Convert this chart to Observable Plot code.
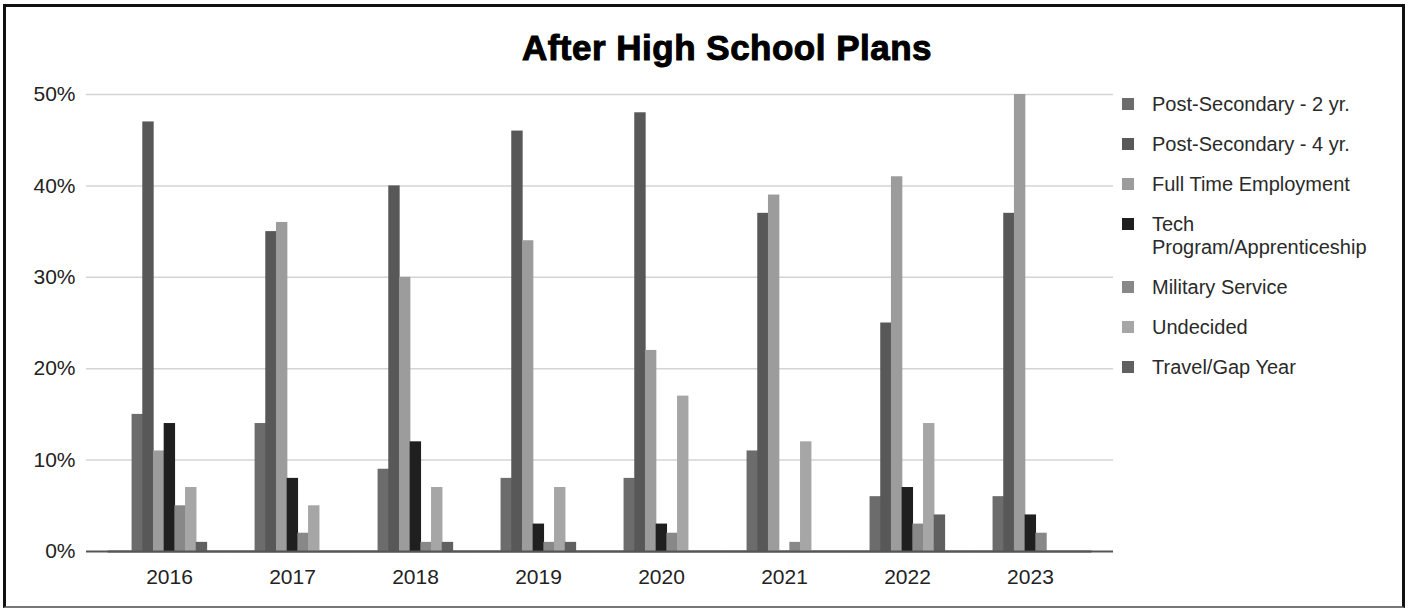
<!DOCTYPE html>
<html>
<head>
<meta charset="utf-8">
<script src="https://cdn.jsdelivr.net/npm/d3@7"></script>
<script src="https://cdn.jsdelivr.net/npm/@observablehq/plot@0.6"></script>
<style>
  html, body { margin: 0; padding: 0; background: #fff; }
  #wrap { position: relative; width: 1408px; height: 609px; overflow: hidden; font-family: "Liberation Sans", Arial, sans-serif; }
  #frame { position: absolute; left: 3px; top: 4px; width: 1402px; height: 604px; box-sizing: border-box;
           border: 3px solid #111; border-bottom: 2px solid #777; }
  #title { position: absolute; left: 427px; width: 600px; top: 30px; text-align: center;
           font-weight: bold; font-size: 35px; line-height: 35px; letter-spacing: 0.5px; color: #000;
           -webkit-text-stroke: 1px #000; }
  .layer { position: absolute; left: 0; top: 70px; }
  #legend { position: absolute; left: 1122px; top: 93px; }
  .item { display: flex; align-items: flex-start; margin-bottom: 17px; }
  .sw { width: 12px; height: 12px; margin-top: 5px; margin-right: 18px; flex: none; }
  .lab { font-size: 20px; line-height: 23px; color: #2a2a2a; max-width: 250px; }
</style>
</head>
<body>
<div id="wrap">
  <div id="frame"></div>
  <div id="title">After High School Plans</div>
  <div id="grid" class="layer"></div>
  <div id="bars" class="layer"></div>
  <div id="legend"></div>
</div>
<script>
// Data (percent)
const years = ["2016", "2017", "2018", "2019", "2020", "2021", "2022", "2023"];
const seriesNames = ["Post-Secondary - 2 yr.", "Post-Secondary - 4 yr.", "Full Time Employment",
  "Tech Program/Apprenticeship", "Military Service", "Undecided", "Travel/Gap Year"];
const postSecondary2 = [15, 14, 9, 8, 8, 11, 6, 6];
const postSecondary4 = [47, 35, 40, 46, 48, 37, 25, 37];
const fullTime       = [11, 36, 30, 34, 22, 39, 41, 50];
const techProgram    = [14, 8, 12, 3, 3, 0, 7, 4];
const military       = [5, 2, 1, 1, 2, 1, 3, 2];
const undecided      = [7, 5, 7, 7, 17, 12, 14, 0];
const travelGap      = [1, 0, 1, 1, 0, 0, 4, 0];
const yTicks = [0, 10, 20, 30, 40, 50];
const colors = ["#6c6c6c", "#585858", "#9c9c9c", "#1f1f1f", "#888888", "#a6a6a6", "#606060"];

const seriesValues = [postSecondary2, postSecondary4, fullTime, techProgram, military, undecided, travelGap];
const rows = [];
seriesNames.forEach((s, si) => years.forEach((y, yi) => rows.push({year: y, series: s, value: seriesValues[si][yi]})));

const common = {
  width: 1408,
  height: 530,
  marginLeft: 86,
  marginRight: 295,
  marginTop: 24,
  marginBottom: 49,
  style: {fontFamily: '"Liberation Sans", Arial, sans-serif', fontSize: "21px", color: "#222", background: "transparent"}
};
const yScale = {domain: [0, 50], ticks: yTicks, tickFormat: d => d + "%", tickSize: 0, tickPadding: 11, label: null};

// Background layer: y axis, gridlines and baseline across the whole frame
const gridChart = Plot.plot({
  ...common,
  y: yScale,
  marks: [
    Plot.ruleY(yTicks.filter(d => d > 0), {stroke: "#d4d4d4", strokeWidth: 1.5}),
    Plot.ruleY([0], {stroke: "#555", strokeWidth: 2})
  ]
});
document.getElementById("grid").appendChild(gridChart);

// Foreground layer: grouped bars faceted by year
const barChart = Plot.plot({
  ...common,
  fx: {domain: years, paddingInner: 0, paddingOuter: 0.175, round: false, axis: "bottom", tickSize: 0, tickPadding: 18, label: null},
  x: {domain: seriesNames, axis: null, paddingInner: 0, paddingOuter: 2.25, round: false},
  y: {...yScale, axis: null},
  color: {domain: seriesNames, range: colors},
  marks: [
    Plot.barY(rows, {fx: "year", x: "series", y: "value", fill: "series", insetLeft: 0, insetRight: -0.7}),
    Plot.ruleY([0], {stroke: "#555", strokeWidth: 2})
  ]
});
document.getElementById("bars").appendChild(barChart);

const legend = document.getElementById("legend");
seriesNames.forEach((s, i) => {
  const item = document.createElement("div");
  item.className = "item";
  const sw = document.createElement("div");
  sw.className = "sw";
  sw.style.background = colors[i];
  const lab = document.createElement("div");
  lab.className = "lab";
  lab.textContent = s;
  item.appendChild(sw);
  item.appendChild(lab);
  legend.appendChild(item);
});
</script>
</body>
</html>
